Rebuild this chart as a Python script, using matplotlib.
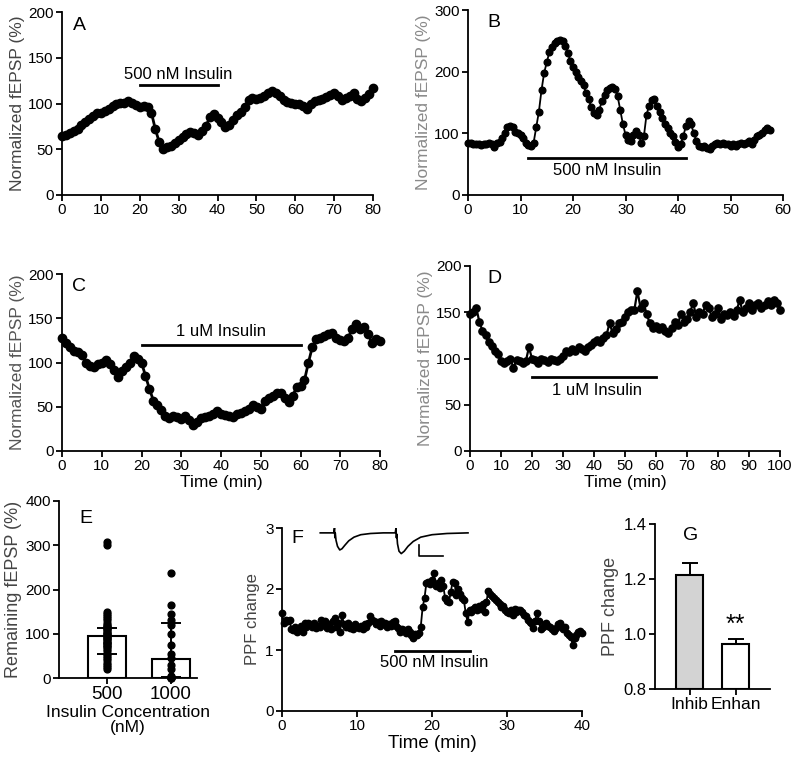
import numpy as np
import matplotlib
matplotlib.use('Agg')
import matplotlib.pyplot as plt

plt.rcParams['font.family'] = ['Liberation Sans', 'DejaVu Sans']

# ---------------- data ----------------
# Panel A: 500 nM insulin, sampled every 1 min (0-80)
a_step = 1.0
a_values = [65, 66, 68, 70, 72, 76, 80, 83, 86, 90,
            90, 92, 94, 97, 100, 101, 101, 103, 101, 98,
            96, 97, 96, 90, 72, 58, 50, 52, 54, 57,
            60, 63, 67, 69, 68, 66, 70, 75, 85, 88,
            84, 80, 74, 76, 82, 87, 91, 96, 104, 106,
            105, 106, 108, 112, 114, 112, 108, 104, 102, 101,
            100, 99, 97, 94, 100, 103, 104, 105, 107, 109,
            111, 108, 104, 106, 108, 112, 105, 103, 106, 110, 117]

# Panel B: 500 nM insulin, every 0.5 min (0-57.5)
b_step = 0.5
b_values = [85, 84, 83, 82, 83, 81, 82, 83, 84, 83,
            78, 84, 86, 92, 100, 110, 112, 110, 102, 100,
            98, 92, 84, 81, 80, 85, 110, 135, 170, 198,
            215, 232, 240, 246, 250, 251, 250, 242, 230, 218,
            208, 200, 192, 185, 178, 165, 155, 142, 133, 130,
            138, 152, 162, 170, 173, 175, 172, 160, 138, 115,
            98, 90, 88, 98, 104, 98, 85, 95, 130, 145,
            154, 155, 145, 135, 125, 115, 108, 100, 95, 86,
            78, 82, 95, 112, 120, 115, 100, 88, 80, 78,
            80, 77, 75, 80, 82, 85, 83, 84, 82, 83,
            80, 82, 80, 83, 84, 82, 85, 88, 83, 90,
            95, 98, 100, 105, 108, 105]

# Panel C: 1 uM insulin, every 1 min (0-80)
c_step = 1.0
c_values = [128, 122, 117, 113, 112, 108, 100, 96, 95, 98,
            100, 103, 98, 92, 84, 90, 95, 100, 107, 104,
            100, 85, 70, 57, 52, 46, 40, 37, 40, 38,
            36, 40, 35, 29, 33, 37, 38, 40, 42, 45,
            42, 41, 40, 38, 42, 43, 45, 48, 52, 50,
            48, 57, 60, 62, 66, 65, 60, 55, 62, 72,
            74, 80, 100, 118, 126, 128, 130, 132, 133, 128,
            125, 124, 128, 138, 143, 138, 140, 132, 122, 126, 124]

# Panel D: 1 uM insulin, every 1 min (0-100)
d_step = 1.0
d_values = [148, 150, 155, 140, 130, 125, 118, 113, 108, 105,
            97, 95, 97, 100, 90, 98, 97, 95, 97, 112,
            100, 98, 95, 100, 98, 96, 100, 98, 97, 100,
            103, 108, 107, 110, 108, 112, 110, 108, 112, 115,
            118, 120, 118, 122, 125, 138, 128, 132, 138, 140,
            145, 150, 152, 152, 173, 155, 160, 148, 138, 133,
            135, 132, 134, 130, 128, 133, 140, 136, 148, 140,
            143, 150, 160, 145, 150, 148, 158, 155, 145, 148,
            155, 143, 148, 147, 150, 146, 152, 163, 150, 155,
            160, 152, 158, 160, 155, 158, 162, 158, 163, 160, 152]

# Panel E: remaining fEPSP by insulin concentration
e_categories = ['500', '1000']
e_means = [95, 43]
e_err_low = [40, 40]
e_err_high = [18, 82]
e_points_500 = [308, 300, 150, 145, 140, 135, 130, 125, 120, 118, 115, 112, 110,
                108, 105, 102, 100, 98, 95, 92, 90, 88, 85, 82, 80, 78, 75, 72,
                70, 65, 60, 55, 50, 45, 40, 35, 30, 25, 20]
e_points_1000 = [237, 165, 145, 130, 120, 100, 75, 55, 45, 30, 20, 5, 3, 2, 1, 0, 0]

# Panel F: PPF change, every 0.25 min (0-40)
f_step = 0.25
f_values = [1.60, 1.45, 1.50, 1.48, 1.50, 1.35, 1.33, 1.38, 1.30, 1.32,
            1.40, 1.30, 1.44, 1.38, 1.45, 1.42, 1.38, 1.45, 1.36, 1.40,
            1.38, 1.50, 1.45, 1.48, 1.36, 1.42, 1.35, 1.47, 1.52, 1.38,
            1.44, 1.30, 1.58, 1.42, 1.38, 1.45, 1.36, 1.40, 1.35, 1.42,
            1.38, 1.36, 1.40, 1.35, 1.42, 1.38, 1.45, 1.55, 1.50, 1.48,
            1.42, 1.46, 1.40, 1.47, 1.42, 1.44, 1.38, 1.42, 1.40, 1.46,
            1.48, 1.40, 1.36, 1.30, 1.34, 1.33, 1.28, 1.34, 1.30, 1.25,
            1.20, 1.26, 1.25, 1.28, 1.38, 1.70, 1.85, 2.10, 2.12, 2.08,
            2.15, 2.26, 2.05, 2.10, 2.02, 2.15, 2.05, 1.85, 1.80, 1.78,
            1.95, 2.12, 2.10, 1.90, 2.00, 1.92, 1.85, 1.82, 1.60, 1.46,
            1.65, 1.62, 1.68, 1.70, 1.65, 1.72, 1.68, 1.75, 1.62, 1.78,
            1.97, 1.92, 1.88, 1.85, 1.82, 1.78, 1.75, 1.70, 1.72, 1.65,
            1.62, 1.60, 1.65, 1.58, 1.68, 1.62, 1.65, 1.66, 1.62, 1.58,
            1.55, 1.50, 1.46, 1.44, 1.36, 1.48, 1.60, 1.48, 1.34, 1.38,
            1.42, 1.45, 1.40, 1.38, 1.35, 1.31, 1.36, 1.42, 1.45, 1.40,
            1.35, 1.37, 1.28, 1.25, 1.22, 1.09, 1.20, 1.25, 1.30, 1.31, 1.28]

# Panel F inset: example paired-pulse fEPSP trace (drawn in F's data coords)
inset_time = [5.1, 6.9, 7.0, 7.05, 7.1, 7.2, 7.4, 7.7, 8.0, 8.4, 8.9, 9.6, 10.5, 11.8, 13.5,
              15.1, 15.2, 15.25, 15.3, 15.4, 15.6, 15.9, 16.3, 16.8, 17.5, 18.5, 20.0, 22.0, 24.8]
inset_trace = [2.92, 2.92, 3.0, 2.84, 2.92, 2.80, 2.70, 2.64, 2.66, 2.72, 2.79, 2.85, 2.89, 2.91, 2.92,
               2.92, 3.0, 2.84, 2.90, 2.74, 2.62, 2.58, 2.62, 2.70, 2.78, 2.85, 2.89, 2.91, 2.92]

# Panel G: PPF change
g_categories = ['Inhib', 'Enhan']
g_means = [1.215, 0.965]
g_err = [0.045, 0.018]

# ---------------- figure ----------------
W, H = 800, 758
fig = plt.figure(figsize=(W / 100, H / 100), dpi=100)


def px_axes(l, t, r, b):
    return fig.add_axes([l / W, 1 - b / H, (r - l) / W, (b - t) / H])


def style(ax):
    for s in ['top', 'right']:
        ax.spines[s].set_visible(False)
    for s in ['left', 'bottom']:
        ax.spines[s].set_linewidth(1.3)
    ax.tick_params(direction='out', length=4, width=1.3, labelsize=11, pad=2)


def trace(ax, step, values, ms=5.4, lw=1.4):
    t = np.arange(len(values)) * step
    ax.plot(t, values, '-o', color='black', lw=lw, ms=ms, mfc='black', mec='black',
            clip_on=False, zorder=3)


YL = 'Normalized fEPSP (%)'

# A
axA = px_axes(62, 12, 373, 195)
style(axA)
trace(axA, a_step, a_values, ms=6.0, lw=2.0)
axA.set_xlim(0, 80); axA.set_ylim(0, 200)
axA.set_xticks(range(0, 81, 10)); axA.set_yticks(range(0, 201, 50))
axA.set_ylabel(YL, fontsize=12.5, color='#444444', labelpad=2)
axA.plot([20, 40], [120, 120], color='black', lw=2)
axA.text(30, 124, '500 nM Insulin', ha='center', va='bottom', fontsize=12)
axA.text(0.035, 0.97, 'A', transform=axA.transAxes, fontsize=14, va='top')

# B
axB = px_axes(468, 10, 783, 195)
style(axB)
trace(axB, b_step, b_values, ms=4.8, lw=1.3)
axB.set_xlim(0, 60); axB.set_ylim(0, 300)
axB.set_xticks(range(0, 61, 10)); axB.set_yticks(range(0, 301, 100))
axB.set_ylabel(YL, fontsize=12.5, color='#8a8a8a', labelpad=2)
axB.plot([11.5, 41.5], [60, 60], color='black', lw=2)
axB.text(26.5, 52, '500 nM Insulin', ha='center', va='top', fontsize=12)
axB.text(0.06, 0.98, 'B', transform=axB.transAxes, fontsize=14, va='top')

# C
axC = px_axes(62, 274, 380, 451)
style(axC)
trace(axC, c_step, c_values, ms=6.0, lw=2.0)
axC.set_xlim(0, 80); axC.set_ylim(0, 200)
axC.set_xticks(range(0, 81, 10)); axC.set_yticks(range(0, 201, 50))
axC.set_ylabel(YL, fontsize=12.5, color='#555555', labelpad=2)
axC.set_xlabel('Time (min)', fontsize=12.5, labelpad=1)
axC.plot([20, 60], [120, 120], color='black', lw=2)
axC.text(40, 126, '1 uM Insulin', ha='center', va='bottom', fontsize=12)
axC.text(0.03, 0.98, 'C', transform=axC.transAxes, fontsize=14, va='top')

# D
axD = px_axes(470, 266, 780, 451)
style(axD)
trace(axD, d_step, d_values, ms=5.2, lw=1.6)
axD.set_xlim(0, 100); axD.set_ylim(0, 200)
axD.set_xticks(range(0, 101, 10)); axD.set_yticks(range(0, 201, 50))
axD.set_ylabel(YL, fontsize=12.5, color='#8a8a8a', labelpad=2)
axD.set_xlabel('Time (min)', fontsize=12.5, labelpad=1)
axD.plot([20, 60], [80, 80], color='black', lw=2)
axD.text(41, 73, '1 uM Insulin', ha='center', va='top', fontsize=12)
axD.text(0.055, 0.98, 'D', transform=axD.transAxes, fontsize=14, va='top')

# E
axE = px_axes(59, 501, 197, 678)
style(axE)
ex = np.arange(len(e_categories))
axE.bar(ex, e_means, width=0.6, color='white', edgecolor='black', lw=1.5, zorder=1)
axE.scatter(np.zeros(len(e_points_500)), e_points_500, s=24, color='black', zorder=3, clip_on=False)
axE.scatter(np.ones(len(e_points_1000)), e_points_1000, s=24, color='black', zorder=3, clip_on=False)
axE.errorbar(ex, e_means, yerr=[e_err_low, e_err_high], fmt='none', ecolor='black', elinewidth=1.4,
             capsize=7, capthick=1.4, zorder=4)
axE.set_xlim(-0.75, 1.41); axE.set_ylim(0, 400)
axE.set_xticks(ex); axE.set_xticklabels(e_categories, fontsize=13.5)
axE.set_yticks(range(0, 401, 100))
axE.set_ylabel('Remaining fEPSP (%)', fontsize=13, color='#444444', labelpad=2)
axE.set_xlabel('Insulin Concentration\n(nM)', fontsize=12.5, labelpad=1, linespacing=1.05)
axE.text(0.15, 0.95, 'E', transform=axE.transAxes, fontsize=14, va='top')

# F
axF = px_axes(282, 528, 582, 711)
style(axF)
trace(axF, f_step, f_values, ms=4.6, lw=1.3)
axF.set_xlim(0, 40); axF.set_ylim(0, 3)
axF.set_xticks(range(0, 41, 10)); axF.set_yticks([0, 1, 2, 3])
axF.set_ylabel('PPF change', fontsize=12, color='#444444', labelpad=4)
axF.set_xlabel('Time (min)', fontsize=13.5, labelpad=1)
axF.plot([15, 25], [0.99, 0.99], color='black', lw=2)
axF.text(20.3, 0.92, '500 nM Insulin', ha='center', va='top', fontsize=12)
axF.plot(inset_time, inset_trace, color='black', lw=1.2)
axF.plot([18.2, 18.2, 21.5], [2.72, 2.54, 2.54], color='black', lw=1.2)
axF.text(0.03, 0.99, 'F', transform=axF.transAxes, fontsize=14, va='top')

# G
axG = px_axes(655, 524, 770, 689)
style(axG)
gx = np.arange(len(g_categories))
axG.bar(gx, [m - 0.8 for m in g_means], bottom=0.8, width=0.6,
        color=['#d3d3d3', 'white'], edgecolor='black', lw=1.5, zorder=2)
axG.errorbar(gx, g_means, yerr=[[0, 0], g_err], fmt='none', ecolor='black', elinewidth=1.4,
             capsize=6, capthick=1.4, zorder=1)
axG.set_xlim(-0.75, 1.75); axG.set_ylim(0.8, 1.4)
axG.set_xticks(gx); axG.set_xticklabels(g_categories, fontsize=12.5)
axG.tick_params(axis='y', labelsize=12)
axG.set_yticks([0.8, 1.0, 1.2, 1.4])
axG.set_yticklabels(['0.8', '1.0', '1.2', '1.4'])
axG.set_ylabel('PPF change', fontsize=13, color='#444444', labelpad=3)
axG.text(1, g_means[1] + g_err[1] + 0.005, '**', ha='center', va='bottom', fontsize=18)
axG.text(0.24, 0.98, 'G', transform=axG.transAxes, fontsize=14, va='top')

fig.savefig('out.png', dpi=100)
